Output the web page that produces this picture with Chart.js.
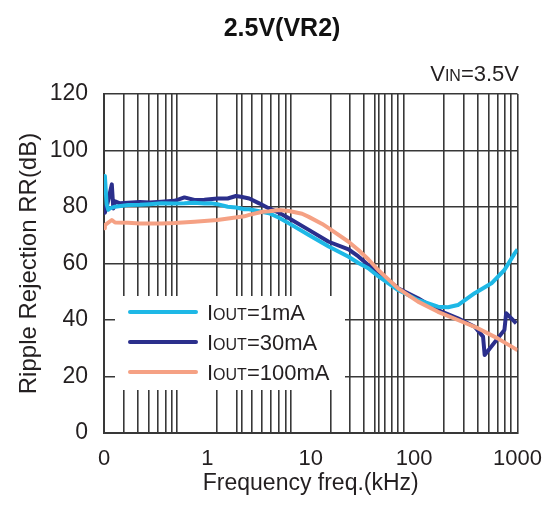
<!DOCTYPE html>
<html>
<head>
<meta charset="utf-8">
<script src="https://cdn.jsdelivr.net/npm/chart.js@4"></script>
<style>
  html, body { margin: 0; padding: 0; background: #fff; }
  #wrap { width: 555px; height: 507px; }
</style>
</head>
<body>
<div id="wrap"><canvas id="chart" width="555" height="507"></canvas></div>
<script>
// Valores (freq em kHz, RR em dB)
const freq1mA = [0.1, 0.102, 0.106, 0.11, 0.114, 0.128, 0.171, 0.222, 0.277, 0.359, 0.481, 0.6, 0.75, 0.935, 1.08, 1.25, 1.57, 1.89, 2.28, 2.54, 3.17, 3.95, 4.93, 6.15, 9.57, 14.9, 23.2, 28.9, 36, 44.9, 69.9, 109, 170, 213, 265, 385, 560, 747, 938, 1000];
const rr1mA = [88, 91, 81, 79, 79.5, 80.1, 80.7, 80.8, 81, 81.3, 81.2, 81.3, 81.5, 81.2, 81.3, 81, 80.1, 79.8, 79.2, 79.2, 78.5, 77.8, 76.2, 74.2, 70.1, 66, 62.4, 60.2, 58.3, 55.5, 50.6, 47.1, 44.7, 44.5, 45.3, 49.5, 53, 57.7, 63.6, 65];

const freq30mA = [0.1, 0.102, 0.106, 0.11, 0.114, 0.119, 0.123, 0.128, 0.143, 0.171, 0.222, 0.277, 0.359, 0.481, 0.6, 0.75, 0.935, 1.25, 1.57, 1.89, 2.11, 2.54, 3.17, 3.95, 4.93, 6.15, 9.57, 14.9, 23.2, 28.9, 36, 44.9, 69.9, 109, 170, 265, 385, 464, 481, 747, 776, 871, 972];
const rr30mA = [80, 78, 80, 82.5, 85, 88, 79.5, 82, 81.3, 81.5, 81.8, 81.6, 81.9, 82.2, 83.4, 82.5, 82.6, 83, 83, 83.9, 83.6, 83, 81.3, 79.5, 78, 76, 71.9, 67.7, 65, 62.5, 59.5, 57, 51.2, 47.7, 43.5, 40.6, 37.6, 34.1, 27.6, 36.5, 42.4, 40.6, 38.8];

const freq100mA = [0.1, 0.102, 0.119, 0.128, 0.171, 0.222, 0.359, 0.481, 0.75, 1.08, 1.25, 2.28, 2.54, 3.41, 3.95, 4.93, 6.15, 8.25, 9.57, 12.9, 14.9, 23.2, 28.9, 36, 44.9, 69.9, 109, 170, 265, 413, 642, 972, 1000];
const rr100mA = [72.5, 73.6, 75.4, 74.5, 74.4, 74.2, 74.2, 74.3, 74.8, 75.2, 75.4, 76.7, 77.2, 78.3, 78.5, 78.9, 78.6, 77.6, 76.5, 74, 72.5, 67.7, 64.8, 61.5, 57.7, 51.2, 46.5, 42.9, 40, 37.1, 33.5, 29.6, 29.3];

const seriesLabels = ['=1mA', '=30mA', '=100mA'];
const seriesColors = ['#1EB8E6', '#2B2F8C', '#F5A184'];

// rótulos do eixo x e linhas verticais da grade como aparecem no original
const xTickValues = [0.1, 1, 10, 100, 1000];
const xTickLabels = ['0', '1', '10', '100', '1000'];
const xGridFreqs = [0.155, 0.214, 0.273, 0.333, 0.395, 0.454, 0.511,
  1.24, 1.93, 2.14, 2.67, 3.38, 4.15, 4.92, 5.71, 6.42,
  15.5, 24.1, 32.8, 41.9, 45.1, 51.5, 61.4, 70.2, 80.1,
  193, 301, 412, 523, 642, 755, 861];
const yTicks = [0, 20, 40, 60, 80, 100, 120];

const FONT = "'Liberation Sans', Arial, Helvetica, sans-serif";
const GRID = '#383838';

function toPoints(xs, ys) {
  return xs.map((x, i) => ({ x, y: ys[i] }));
}

function drawSub(ctx, x, y, main, sub, rest, size, subSize, align) {
  ctx.font = `${size}px ${FONT}`;
  const w1 = ctx.measureText(main).width;
  const w3 = ctx.measureText(rest).width;
  ctx.font = `${subSize}px ${FONT}`;
  const w2 = ctx.measureText(sub).width;
  let cx = align === 'right' ? x - (w1 + w2 + w3) : x;
  ctx.textAlign = 'left';
  ctx.textBaseline = 'alphabetic';
  ctx.font = `${size}px ${FONT}`;
  ctx.fillText(main, cx, y);
  cx += w1;
  ctx.font = `${subSize}px ${FONT}`;
  ctx.fillText(sub, cx, y);
  cx += w2;
  ctx.font = `${size}px ${FONT}`;
  ctx.fillText(rest, cx, y);
}

const overlay = {
  id: 'overlay',
  afterDatasetsDraw(chart) {
    const ctx = chart.ctx;
    ctx.save();
    // caixa da legenda por cima da grade
    ctx.fillStyle = '#fff';
    ctx.fillRect(115, 296, 230, 94);
    seriesLabels.forEach((lab, i) => {
      const y = 312 + i * 30;
      ctx.strokeStyle = seriesColors[i];
      ctx.lineWidth = 4;
      ctx.lineCap = 'round';
      ctx.beginPath();
      ctx.moveTo(130, y);
      ctx.lineTo(196, y);
      ctx.stroke();
      ctx.fillStyle = '#231f20';
      drawSub(ctx, 207, y + 8, 'I', 'OUT', lab, 22, 16, 'left');
    });

    // título e condição
    ctx.fillStyle = '#111';
    ctx.font = `bold 25px ${FONT}`;
    ctx.textAlign = 'center';
    ctx.textBaseline = 'alphabetic';
    ctx.fillText('2.5V(VR2)', 282, 36);
    ctx.fillStyle = '#231f20';
    drawSub(ctx, 519, 81, 'V', 'IN', '=3.5V', 22, 16, 'right');
    ctx.restore();
  }
};

new Chart(document.getElementById('chart'), {
  type: 'line',
  data: {
    datasets: [
      { label: 'IOUT=1mA', data: toPoints(freq1mA, rr1mA), borderColor: seriesColors[0], order: 1 },
      { label: 'IOUT=30mA', data: toPoints(freq30mA, rr30mA), borderColor: seriesColors[1], order: 2 },
      { label: 'IOUT=100mA', data: toPoints(freq100mA, rr100mA), borderColor: seriesColors[2], order: 0 }
    ].map(ds => ({ ...ds, borderWidth: 4, pointRadius: 0, tension: 0, fill: false, borderJoinStyle: 'round' }))
  },
  options: {
    responsive: false,
    animation: false,
    events: [],
    layout: { padding: { left: 0, right: 35, top: 94, bottom: 0 } },
    plugins: { legend: { display: false }, tooltip: { enabled: false }, title: { display: false } },
    scales: {
      x: {
        type: 'logarithmic',
        min: 0.1,
        max: 1000,
        afterBuildTicks: scale => {
          scale.ticks = [...xTickValues, ...xGridFreqs].sort((a, b) => a - b).map(v => ({ value: v }));
        },
        afterFit: scale => { scale.height = 74; },
        ticks: {
          autoSkip: false,
          maxRotation: 0,
          padding: 13,
          color: '#231f20',
          font: { family: FONT, size: 22 },
          callback: v => {
            const i = xTickValues.indexOf(v);
            return i >= 0 ? xTickLabels[i] : '';
          }
        },
        grid: {
          drawTicks: false,
          lineWidth: 1.6,
          color: c => (c.tick && [1, 10, 100].includes(c.tick.value)) ? 'rgba(0,0,0,0)' : GRID
        },
        border: { color: GRID, width: 2 },
        title: {
          display: true,
          text: 'Frequency freq.(kHz)',
          color: '#231f20',
          font: { family: FONT, size: 23 },
          padding: { top: 0, bottom: 10 }
        }
      },
      y: {
        min: 0,
        max: 120,
        afterBuildTicks: scale => { scale.ticks = yTicks.map(v => ({ value: v })); },
        afterFit: scale => { scale.width = 104; },
        ticks: { padding: 16, color: '#231f20', font: { family: FONT, size: 23 } },
        grid: { drawTicks: false, lineWidth: 1.6, color: GRID },
        border: { color: GRID, width: 2 },
        title: {
          display: true,
          text: 'Ripple Rejection RR(dB)',
          color: '#231f20',
          font: { family: FONT, size: 24 },
          padding: { top: 15, bottom: 0 }
        }
      }
    }
  },
  plugins: [overlay]
});
</script>
</body>
</html>
